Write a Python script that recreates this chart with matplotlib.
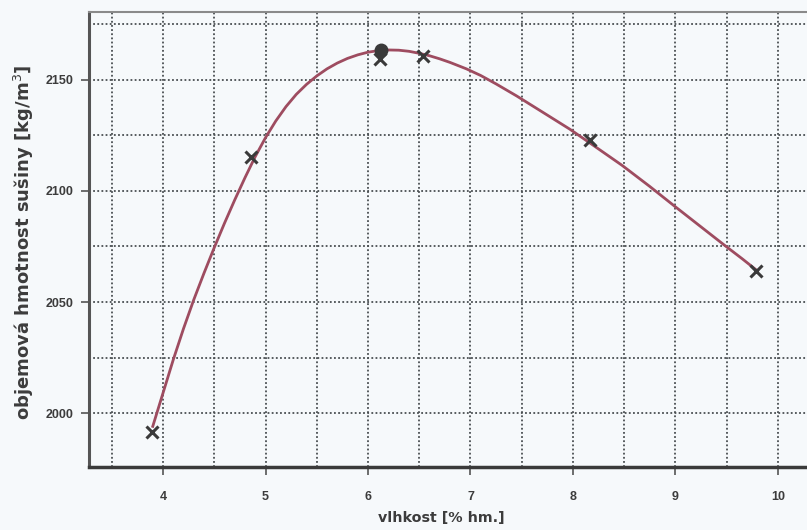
import matplotlib
matplotlib.use("Agg")
import matplotlib.pyplot as plt
from matplotlib.ticker import MultipleLocator

# measured points (x markers)
meas_x = [3.89, 4.86, 6.12, 6.54, 8.17, 9.79]
meas_y = [1991.5, 2115.5, 2159.5, 2161.0, 2123.0, 2064.0]

# optimum point (filled circle)
opt_x = [6.13]
opt_y = [2163.5]

# fitted curve
curve_x = [3.90, 4.00, 4.10, 4.20, 4.30, 4.40, 4.50, 4.60, 4.70, 4.80, 4.90,
           5.00, 5.10, 5.20, 5.30, 5.40, 5.50, 5.60, 5.70, 5.80, 5.90, 6.00,
           6.10, 6.20, 6.30, 6.40, 6.50, 6.60, 6.70, 6.80, 6.96, 7.10, 7.25,
           7.45, 7.70, 7.97, 8.20, 8.48, 8.75, 8.99, 9.25, 9.48, 9.65, 9.80]
curve_y = [1994.0, 2009.0, 2024.0, 2038.0, 2051.0, 2063.0, 2074.5, 2085.5,
           2096.0, 2106.0, 2115.5, 2124.0, 2131.5, 2138.0, 2143.5, 2148.0,
           2151.8, 2155.0, 2157.6, 2159.7, 2161.3, 2162.5, 2163.2, 2163.5,
           2163.4, 2162.9, 2162.0, 2160.9, 2159.5, 2157.9, 2155.0, 2152.0,
           2148.2, 2142.8, 2135.6, 2127.8, 2120.5, 2111.5, 2102.0, 2093.2,
           2083.8, 2075.5, 2069.5, 2064.0]

xticks = [4, 5, 6, 7, 8, 9, 10]
yticks = [2000, 2050, 2100, 2150]

bg = "#f6f9fb"
txt = "#3c3c3c"
fig = plt.figure(figsize=(8.07, 5.30), dpi=100, facecolor=bg)
ax = fig.add_axes([89 / 807, 1 - 467 / 530, 1 - 89 / 807, (467 - 12) / 530])
ax.set_facecolor(bg)

ax.set_xlim(3.278, 10.283)
ax.set_ylim(1975.7, 2180.6)

ax.set_xticks(xticks)
ax.set_yticks(yticks)
ax.xaxis.set_minor_locator(MultipleLocator(0.5))
ax.yaxis.set_minor_locator(MultipleLocator(25))
ax.grid(True, which="both", color="#4a4f52", linestyle=(0, (1, 1.3)), linewidth=1.3)
ax.set_axisbelow(True)

ax.plot(curve_x, curve_y, color="#9e4c60", linewidth=2.0, zorder=3)
ax.plot(meas_x, meas_y, linestyle="none", marker="x", markersize=8,
        markeredgewidth=2.2, color="#3a3a3a", zorder=4)
ax.plot(opt_x, opt_y, linestyle="none", marker="o", markersize=9,
        color="#3a3a3a", zorder=5)

ax.spines["right"].set_visible(False)
ax.spines["top"].set_color("#8a8a8a")
ax.spines["top"].set_linewidth(1.5)
ax.spines["left"].set_color("#555555")
ax.spines["left"].set_linewidth(2.2)
ax.spines["bottom"].set_color("#3a3a3a")
ax.spines["bottom"].set_linewidth(2.5)

tick_font = ["Liberation Sans", "DejaVu Sans"]
lab_font = ["DejaVu Sans"]
ax.tick_params(axis="both", which="major", direction="out", length=6,
               width=1.2, color="#555555", labelsize=9, labelcolor=txt)
ax.tick_params(axis="x", pad=11)
ax.tick_params(axis="y", pad=5)
ax.tick_params(axis="both", which="minor", length=0)
for lab in ax.get_xticklabels() + ax.get_yticklabels():
    lab.set_family(tick_font)
    lab.set_fontweight("bold")

ax.set_xlabel("vlhkost [% hm.]", fontsize=10.3, color=txt,
              family=lab_font, fontweight="bold")
ax.set_ylabel("objemová hmotnost sušiny [kg/m$^3$]", fontsize=13,
              color=txt, family=lab_font, fontweight="bold")
ax.xaxis.set_label_coords((441 - 89) / 718, -(518 - 467) / 455)
ax.yaxis.set_label_coords(-(89 - 24) / 718, (467 - 242) / 455)
ax.xaxis.label.set_va("center")
ax.yaxis.label.set_va("center")

fig.savefig("out.png", dpi=100, facecolor=bg)
